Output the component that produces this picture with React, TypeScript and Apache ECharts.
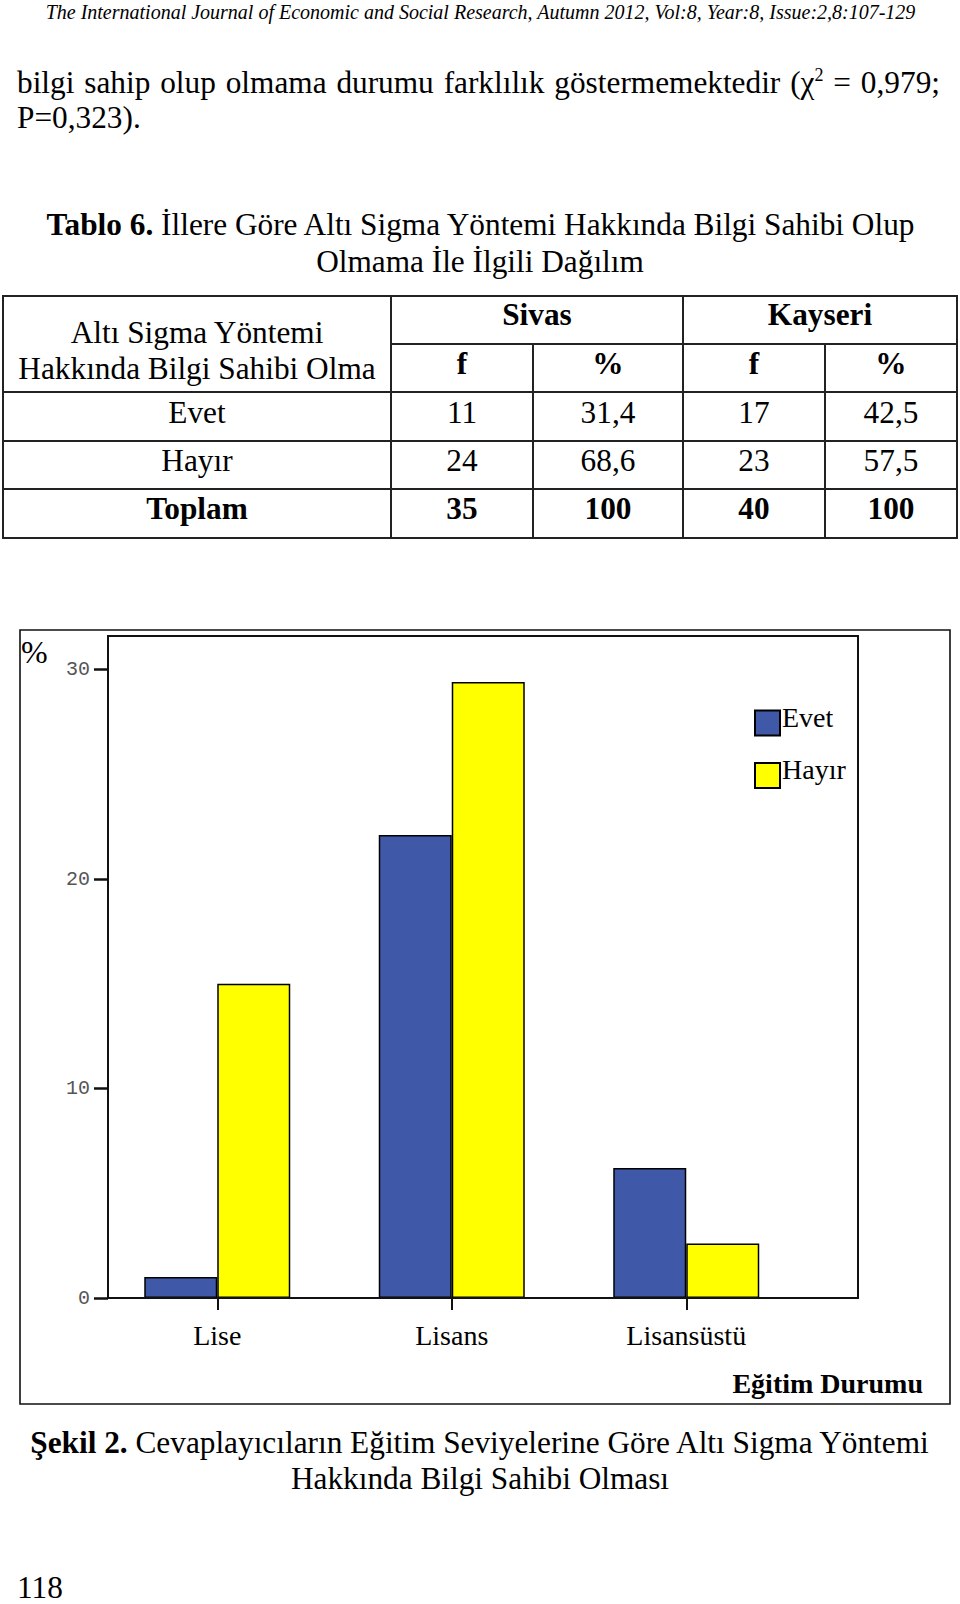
import React, { useEffect, useRef } from "react";
import * as echarts from "echarts";

// ---- Data ----
const categories = ["Lise", "Lisans", "Lisansüstü"];
const evetValues = [1.0, 22.1, 6.2];
const hayirValues = [15.0, 29.4, 2.6];
const yTickValues = [0, 10, 20, 30];
const seriesNames = ["Evet", "Hayır"];

const tableRowLabels = ["Evet", "Hayır", "Toplam"];
const sivasF = ["11", "24", "35"];
const sivasPct = ["31,4", "68,6", "100"];
const kayseriF = ["17", "23", "40"];
const kayseriPct = ["42,5", "57,5", "100"];

const SERIF = "'Liberation Serif', 'Times New Roman', serif";
const MONO = "'Liberation Mono', 'DejaVu Sans Mono', monospace";
const FS = 31.3;

const colX = [3, 391, 533, 683, 825, 957];
const rowY = [296, 344, 392, 441, 489, 538];

function Line({ x1, y1, x2, y2 }: { x1: number; y1: number; x2: number; y2: number }) {
  const w = 2;
  const style: React.CSSProperties =
    x1 === x2
      ? { position: "absolute", left: x1 - w / 2, top: y1 - w / 2, width: w, height: y2 - y1 + w, background: "#222" }
      : { position: "absolute", left: x1 - w / 2, top: y1 - w / 2, width: x2 - x1 + w, height: w, background: "#222" };
  return <div style={style} />;
}

function TextAt({
  cx,
  cy,
  fs,
  bold,
  italic,
  children,
  left,
  width,
  align,
}: {
  cx?: number;
  cy: number;
  fs: number;
  bold?: boolean;
  italic?: boolean;
  children: React.ReactNode;
  left?: number;
  width?: number;
  align?: "left" | "center";
}) {
  const w = width ?? 900;
  const l = left ?? (cx as number) - w / 2;
  return (
    <div
      style={{
        position: "absolute",
        left: l,
        top: cy - fs / 2,
        width: w,
        height: fs,
        lineHeight: fs + "px",
        fontSize: fs,
        fontFamily: SERIF,
        fontWeight: bold ? "bold" : "normal",
        fontStyle: italic ? "italic" : "normal",
        textAlign: align ?? "center",
        whiteSpace: "nowrap",
        color: "#000",
      }}
    >
      {children}
    </div>
  );
}

function Chart() {
  const ref = useRef<HTMLDivElement>(null);
  useEffect(() => {
    if (!ref.current) return;
    const chart = echarts.init(ref.current, undefined, { renderer: "svg" });
    const barStyle = (color: string) => ({
      color,
      borderColor: "#000",
      borderWidth: 1.5,
    });
    chart.setOption({
      animation: false,
      backgroundColor: "#fff",
      grid: { left: 100, top: 36, width: 703.5, height: 662, containLabel: false },
      legend: {
        orient: "vertical",
        left: 754,
        top: 103,
        padding: 0,
        itemWidth: 25,
        itemHeight: 25,
        itemGap: 19,
        icon: "rect",
        data: seriesNames,
        formatter: "{t|{name}}",
        textStyle: {
          fontFamily: SERIF,
          fontSize: 28,
          color: "#000",
          rich: {
            t: {
              fontFamily: SERIF,
              fontSize: 28,
              color: "#000",
              padding: [0, 0, 12, -3],
            },
          },
        },
      },
      xAxis: {
        type: "category",
        data: categories,
        axisLine: { show: false },
        axisTick: { show: true, alignWithLabel: true, length: 12, lineStyle: { color: "#111", width: 2 } },
        axisLabel: { fontFamily: SERIF, fontSize: 28, color: "#000", margin: 23 },
        splitLine: { show: false },
      },
      yAxis: {
        type: "value",
        min: 0,
        max: 31.6,
        offset: -8,
        axisLine: { show: false },
        splitLine: { show: false },
        axisTick: {
          show: true,
          length: 14,
          customValues: yTickValues,
          lineStyle: { color: "#111", width: 2.5 },
        },
        axisLabel: {
          customValues: yTickValues,
          fontFamily: MONO,
          fontSize: 20,
          color: "#555",
          margin: 18,
          padding: [8, 0, 0, 0],
        },
      },
      series: [
        {
          name: seriesNames[0],
          type: "bar",
          data: evetValues,
          barWidth: 73,
          barGap: "0%",
          itemStyle: barStyle("#3F59A8"),
        },
        {
          name: seriesNames[1],
          type: "bar",
          data: hayirValues,
          barWidth: 73,
          barGap: "0%",
          itemStyle: barStyle("#FFFF00"),
        },
      ],
      graphic: [
        {
          type: "rect",
          shape: { x: 20, y: 30, width: 930, height: 774 },
          style: { fill: "none", stroke: "#111", lineWidth: 1.6 },
          silent: true,
        },
        {
          type: "rect",
          shape: { x: 108, y: 36, width: 750, height: 662 },
          style: { fill: "none", stroke: "#111", lineWidth: 2 },
          silent: true,
          z: 10,
        },
        {
          type: "text",
          x: 21,
          y: 51.5,
          style: { text: "%", fontFamily: SERIF, fontSize: 32, fill: "#000", align: "left", verticalAlign: "middle" },
        },
        {
          type: "text",
          x: 923,
          y: 783,
          style: {
            text: "Eğitim Durumu",
            fontFamily: SERIF,
            fontSize: 28,
            fontWeight: "bold",
            fill: "#000",
            align: "right",
            verticalAlign: "middle",
          },
        },
      ],
    });
    return () => chart.dispose();
  }, []);
  return <div ref={ref} style={{ position: "absolute", left: 0, top: 600, width: 960, height: 820 }} />;
}

export default function App() {
  const colCenter = (i: number) => (colX[i] + colX[i + 1]) / 2;
  const rowCentersText = [412.5, 460.6, 508.7];
  return (
    <div
      style={{
        position: "absolute",
        left: 0,
        top: 0,
        width: 960,
        height: 1604,
        background: "#fff",
        overflow: "hidden",
        color: "#000",
      }}
    >
      <TextAt cx={480.5} cy={12.3} fs={20} italic>
        The International Journal of Economic and Social Research, Autumn 2012, Vol:8, Year:8, Issue:2,8:107-129
      </TextAt>

      <div
        style={{
          position: "absolute",
          left: 17,
          top: 83 - FS / 2,
          width: 923,
          height: FS,
          lineHeight: FS + "px",
          fontSize: FS,
          fontFamily: SERIF,
          textAlign: "justify",
          textAlignLast: "justify",
          color: "#000",
        }}
      >
        bilgi sahip olup olmama durumu farklılık göstermemektedir (χ
        <span style={{ fontSize: 18, position: "relative", top: -12 }}>2</span> = 0,979;
      </div>
      <TextAt left={17} width={400} cy={118} fs={FS} align="left">
        P=0,323).
      </TextAt>

      <TextAt cx={480.5} cy={225} fs={FS}>
        <b>Tablo 6.</b> İllere Göre Altı Sigma Yöntemi Hakkında Bilgi Sahibi Olup
      </TextAt>
      <TextAt cx={480} cy={262} fs={FS}>
        Olmama İle İlgili Dağılım
      </TextAt>

      {/* Table grid */}
      <Line x1={colX[0]} y1={rowY[0]} x2={colX[5]} y2={rowY[0]} />
      <Line x1={colX[1]} y1={rowY[1]} x2={colX[5]} y2={rowY[1]} />
      <Line x1={colX[0]} y1={rowY[2]} x2={colX[5]} y2={rowY[2]} />
      <Line x1={colX[0]} y1={rowY[3]} x2={colX[5]} y2={rowY[3]} />
      <Line x1={colX[0]} y1={rowY[4]} x2={colX[5]} y2={rowY[4]} />
      <Line x1={colX[0]} y1={rowY[5]} x2={colX[5]} y2={rowY[5]} />
      <Line x1={colX[0]} y1={rowY[0]} x2={colX[0]} y2={rowY[5]} />
      <Line x1={colX[1]} y1={rowY[0]} x2={colX[1]} y2={rowY[5]} />
      <Line x1={colX[2]} y1={rowY[1]} x2={colX[2]} y2={rowY[5]} />
      <Line x1={colX[3]} y1={rowY[0]} x2={colX[3]} y2={rowY[5]} />
      <Line x1={colX[4]} y1={rowY[1]} x2={colX[4]} y2={rowY[5]} />
      <Line x1={colX[5]} y1={rowY[0]} x2={colX[5]} y2={rowY[5]} />

      <TextAt cx={colCenter(0)} width={384} cy={333} fs={FS}>
        Altı Sigma Yöntemi
      </TextAt>
      <TextAt cx={colCenter(0)} width={384} cy={368.5} fs={FS}>
        Hakkında Bilgi Sahibi Olma
      </TextAt>
      <TextAt cx={(colX[1] + colX[3]) / 2} width={280} cy={315} fs={FS} bold>
        Sivas
      </TextAt>
      <TextAt cx={(colX[3] + colX[5]) / 2} width={270} cy={315} fs={FS} bold>
        Kayseri
      </TextAt>
      <TextAt cx={colCenter(1)} width={140} cy={363.3} fs={FS} bold>
        f
      </TextAt>
      <TextAt cx={colCenter(2)} width={140} cy={363.3} fs={FS} bold>
        %
      </TextAt>
      <TextAt cx={colCenter(3)} width={140} cy={363.3} fs={FS} bold>
        f
      </TextAt>
      <TextAt cx={colCenter(4)} width={130} cy={363.3} fs={FS} bold>
        %
      </TextAt>

      {tableRowLabels.map((label, i) => {
        const bold = i === tableRowLabels.length - 1;
        const cy = rowCentersText[i];
        return (
          <React.Fragment key={label}>
            <TextAt cx={colCenter(0)} width={384} cy={cy} fs={FS} bold={bold}>
              {label}
            </TextAt>
            <TextAt cx={colCenter(1)} width={140} cy={cy} fs={FS} bold={bold}>
              {sivasF[i]}
            </TextAt>
            <TextAt cx={colCenter(2)} width={140} cy={cy} fs={FS} bold={bold}>
              {sivasPct[i]}
            </TextAt>
            <TextAt cx={colCenter(3)} width={140} cy={cy} fs={FS} bold={bold}>
              {kayseriF[i]}
            </TextAt>
            <TextAt cx={colCenter(4)} width={130} cy={cy} fs={FS} bold={bold}>
              {kayseriPct[i]}
            </TextAt>
          </React.Fragment>
        );
      })}

      <Chart />

      <TextAt cx={479.5} cy={1443} fs={FS}>
        <b>Şekil 2.</b> Cevaplayıcıların Eğitim Seviyelerine Göre Altı Sigma Yöntemi
      </TextAt>
      <TextAt cx={480} cy={1479} fs={FS}>
        Hakkında Bilgi Sahibi Olması
      </TextAt>
      <TextAt left={17} width={100} cy={1588} fs={FS} align="left">
        118
      </TextAt>
    </div>
  );
}
